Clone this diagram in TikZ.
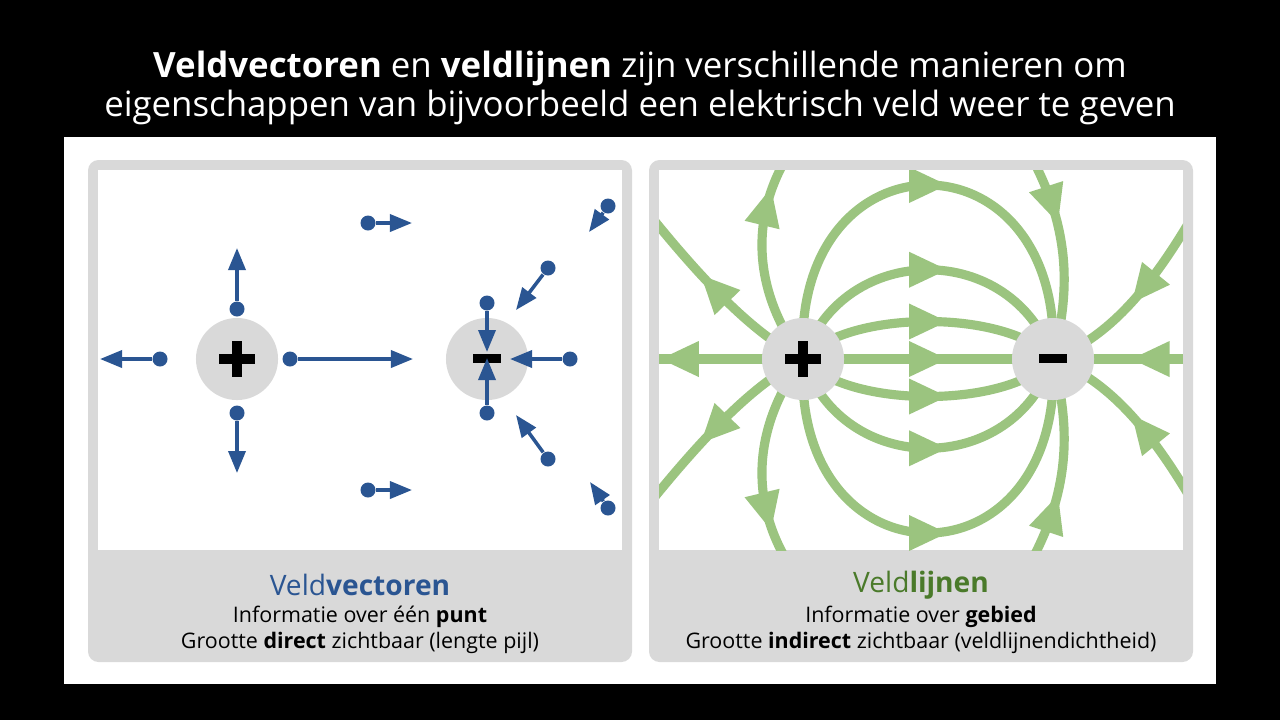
\documentclass[tikz,border=0pt]{standalone}
\usepackage{fontspec}
\setmainfont{Open Sans}
\usetikzlibrary{arrows.meta,decorations.markings}
\definecolor{vecblue}{HTML}{2A5592}
\definecolor{lijngreen}{HTML}{9BC47F}
\definecolor{darkgreen}{HTML}{4A7A2A}
\definecolor{panelgray}{HTML}{D9D9D9}
\tikzset{
  panel/.style={fill=panelgray, rounded corners=3pt},
  charge/.style={circle, fill=panelgray, minimum size=0.82cm, inner sep=0pt},
  dot/.style={circle, fill=vecblue, minimum size=0.15cm, inner sep=0pt},
  vec/.style={vecblue, line width=1pt, -{Triangle[length=0.22cm,width=0.17cm]}},
  fline/.style={lijngreen, line width=2.6pt},
  farrow/.style={postaction={decorate}, decoration={markings,
      mark=at position #1 with {\fill[lijngreen] (0.19cm,0) -- (-0.19cm,0.18cm) -- (-0.19cm,-0.18cm) -- cycle;}}},
  farrow/.default=0.5
}
\begin{document}
\begin{tikzpicture}[x=0.01cm, y=-0.01cm]
  \fill[black] (0,0) rectangle (1280,720);
  \useasboundingbox (0,0) rectangle (1280,720);
  \fill[white] (64,137) rectangle (1216,684);

  % titel
  \node[white, font=\fontsize{9.9pt}{11.3pt}\selectfont, align=center] (titel) at (640,88)
    {\textbf{Veldvectoren} en \textbf{veldlijnen} zijn verschillende manieren om\\
     eigenschappen van bijvoorbeeld een elektrisch veld weer te geven};

  % panelen
  \fill[panel] (88,160) rectangle (632,662);
  \fill[white] (98,170) rectangle (622,550);
  \fill[panel] (649,160) rectangle (1193,662);
  \fill[white] (659,170) rectangle (1183,550);

  % veldvectoren
  \node[charge] (plusL) at (237,359) {};
  \node[charge] (minL) at (487,359) {};
  \fill (plusL.center) ++(-18,-5) rectangle ++(36,10);
  \fill (plusL.center) ++(-5,-18) rectangle ++(10,36);
  \fill (minL.center) ++(-14,-5) rectangle ++(28,9);
  \foreach \name/\dx/\dy/\tx/\ty in {a/237/309/237/248, b/237/413/237/473, c/160/359/100/359,
      d/290/359/413/359, e/368/223/412/223, f/368/490/412/490,
      g/487/303/487/352, h/487/413/487/358, i/570/359/510/359,
      j/548/268/516/310, k/548/459/516/415, l/608/206/589/232, m/608/508/590/482} {
    \node[dot] (d\name) at (\dx,\dy) {};
    \coordinate (t\name) at (\tx,\ty);
    \draw[vec] (d\name) -- (t\name);
  }
  \node[vecblue, font=\fontsize{8pt}{9pt}\selectfont] (kopL) at (360,585) {Veld\textbf{vectoren}};
  \node[font=\fontsize{6.1pt}{7.4pt}\selectfont, align=center] (tekstL) at (360,630)
    {Informatie over één \textbf{punt}\\Grootte \textbf{direct} zichtbaar (lengte pijl)};

  % veldlijnen
  \begin{scope}
    \clip (659,170) rectangle (1183,550);
    \begin{scope}[shift={(803,359)}]
      \coordinate (p) at (0,0);
      \coordinate (n) at (250,0);
      \coordinate (links) at (-145,0);
      \coordinate (rechts) at (380,0);
      \draw[fline, farrow=0.85] (p) -- (links);
      \draw[fline, farrow=0.5] (p) -- (n);
      \draw[fline, farrow=0.25] (rechts) -- (n);
      \foreach \s in {1,-1} {
        \begin{scope}[yscale=\s]
          \draw[fline, farrow] (p) .. controls (45,-50) and (205,-50) .. (n);
          \draw[fline, farrow] (p) .. controls (40,-119) and (210,-119) .. (n);
          \draw[fline, farrow] (p) .. controls (-12,-232) and (262,-232) .. (n);
          \draw[fline, farrow=0.78] (p) .. controls (-45,-60) and (-55,-130) .. (-20,-195);
          \draw[fline, farrow=0.55] (p) .. controls (-40,-20) and (-85,-60) .. (-150,-140);
          \draw[fline, farrow=0.22] (232,-195) .. controls (270,-120) and (265,-60) .. (n);
          \draw[fline, farrow=0.4] (385,-135) .. controls (340,-60) and (300,-20) .. (n);
        \end{scope}
      }
    \end{scope}
  \end{scope}
  \node[charge] (plusR) at (803,359) {};
  \node[charge] (minR) at (1053,359) {};
  \fill (plusR.center) ++(-18,-5) rectangle ++(36,10);
  \fill (plusR.center) ++(-5,-18) rectangle ++(10,36);
  \fill (minR.center) ++(-14,-5) rectangle ++(28,9);
  \node[darkgreen, font=\fontsize{8pt}{9pt}\selectfont] (kopR) at (921,585) {Veld\textbf{lijnen}};
  \node[font=\fontsize{6.1pt}{7.4pt}\selectfont, align=center] (tekstR) at (921,630)
    {Informatie over \textbf{gebied}\\Grootte \textbf{indirect} zichtbaar (veldlijnendichtheid)};
\end{tikzpicture}
\end{document}
